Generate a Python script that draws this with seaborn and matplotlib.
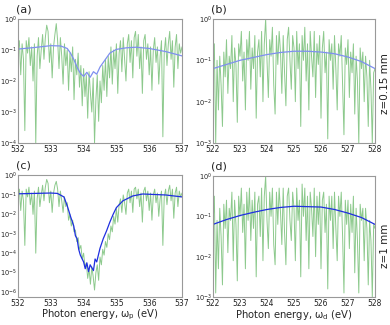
import numpy as np
import pandas as pd
import seaborn as sns
import matplotlib
matplotlib.use("Agg")
import matplotlib.pyplot as plt
from matplotlib.ticker import LogLocator, LogFormatterSciNotation, NullLocator

# spectra, log10 of intensity, sampled on an even energy grid
a_green = [-1.0, -0.7, -1.8, -0.8, -1.3, -3.6, -0.7, -1.1, -0.6, -1.5,
           -0.9, -2.0, -0.8, -4.0, -1.2, -0.6, -1.6, -1.0, -0.5, -1.3,
           -0.6, -0.2, -0.4, -1.4, -0.8, -1.9, -0.9, -0.5, -0.15, -0.7,
           -1.6, -0.6, -1.2, -2.1, -0.8, -1.5, -1.0, -2.3, -1.1, -1.7,
           -0.9, -2.6, -1.3, -1.8, -1.1, -2.2, -1.5, -2.8, -1.6, -2.5,
           -1.8, -3.2, -1.7, -2.4, -3.0, -1.9, -4.0, -2.6, -1.8, -3.3,
           -2.0, -2.7, -1.5, -2.3, -1.3, -2.5, -1.2, -1.9, -0.9, -2.1,
           -1.0, -1.6, -0.8, -2.4, -1.1, -0.7, -1.7, -0.6, -1.3, -2.0,
           -0.8, -0.5, -1.4, -0.7, -1.9, -0.6, -0.4, -1.2, -0.5, -1.6,
           -0.9, -2.4, -0.7, -0.5, -1.3, -0.8, -1.8, -0.9, -2.3, -1.0,
           -0.6, -1.4, -0.9, -2.1, -1.2, -0.7, -3.8, -1.1, -0.6, -1.5,
           -0.8, -0.4, -1.3, -0.7, -2.2, -0.9, -0.5, -1.6, -0.8, -1.1, -0.9]
c_green = [-1.0, -0.7, -1.8, -0.8, -1.3, -3.6, -0.7, -1.1, -0.6, -1.5,
           -0.9, -2.0, -0.8, -4.0, -1.2, -0.6, -1.6, -1.0, -0.5, -1.3,
           -0.6, -0.2, -0.4, -1.4, -0.8, -1.9, -0.9, -0.5, -0.3, -0.7,
           -1.6, -0.8, -1.3, -1.9, -1.1, -1.6, -1.4, -2.3, -2.0, -2.6,
           -2.3, -2.9, -2.8, -3.4, -3.2, -3.8, -3.6, -4.3, -4.0, -4.7,
           -4.5, -5.3, -4.8, -5.6, -4.7, -5.2, -5.9, -5.0, -4.6, -5.4,
           -4.2, -4.6, -3.8, -4.1, -3.4, -3.7, -3.0, -3.3, -2.6, -2.9,
           -2.1, -2.5, -1.7, -2.4, -1.5, -1.2, -1.9, -1.0, -1.4, -2.0,
           -0.9, -0.7, -1.4, -0.8, -1.9, -0.7, -0.6, -1.2, -0.7, -1.6,
           -0.9, -2.4, -0.8, -0.6, -1.3, -0.8, -1.8, -0.9, -2.3, -1.0,
           -0.7, -1.4, -0.9, -2.1, -1.2, -0.8, -3.6, -1.1, -0.7, -1.5,
           -0.8, -0.5, -1.3, -0.7, -2.2, -0.9, -0.6, -1.6, -0.8, -1.1, -0.9]
b_green = [-1.3, -0.6, -3.0, -1.0, -2.2, -0.9, -1.6, -2.6, -0.8, -1.4,
           -0.5, -1.8, -0.9, -1.2, -0.4, -2.0, -0.7, -1.1, -2.5, -0.6,
           -0.9, -0.3, -1.5, -0.8, -2.2, -0.5, -1.0, -0.3, -1.7, -0.7,
           -1.2, -0.4, -2.4, -0.8, -0.5, -1.4, -0.3, -2.0, -0.6, 0.0,
           -1.0, -1.9, -0.5, -0.9, -0.2, -1.6, -2.3, -0.4, -1.1, -0.3,
           -0.8, -1.8, -0.4, -1.3, -2.1, -0.5, -0.2, -1.0, -1.7, -0.4,
           -0.7, -2.0, -0.3, -1.2, -0.6, -2.6, -0.4, -1.0, -0.2, -1.5,
           -0.6, -2.2, -0.3, -0.9, -1.4, -0.3, -1.9, -0.6, -1.1, -0.4,
           -2.4, -0.7, -0.3, -1.3, -0.8, -2.9, -0.5, -1.0, -0.6, -1.7,
           -0.4, -1.2, -2.2, -0.6, -0.9, -0.4, -1.6, -2.8, -0.7, -1.1,
           -0.5, -1.9, -0.8, -1.3, -0.6, -2.3, -0.9, -1.5, -3.0, -0.7,
           -1.2, -0.8, -2.0, -0.9, -1.4, -2.6, -1.0, -1.7, -3.0, -1.3, -1.2]
d_green = [-1.2, -0.5, -2.9, -1.1, -2.3, -0.8, -1.5, -2.7, -0.7, -1.3,
           -0.6, -1.9, -0.8, -1.1, -0.4, -2.1, -0.6, -1.2, -2.6, -0.5,
           -1.0, -0.3, -1.4, -0.7, -2.3, -0.4, -1.1, -0.3, -1.6, -0.6,
           -1.3, -0.4, -2.5, -0.7, -0.5, -1.5, -0.3, -2.1, -0.5, 0.0,
           -1.1, -1.8, -0.4, -1.0, -0.3, -1.7, -2.2, -0.4, -1.2, -0.3,
           -0.9, -1.7, -0.3, -1.4, -2.2, -0.5, -0.3, -1.1, -1.6, -0.4,
           -0.8, -2.1, -0.3, -1.1, -0.6, -2.5, -0.2, -1.0, -0.3, -1.6,
           -0.5, -2.3, -0.4, -0.8, -1.5, -0.3, -2.0, -0.5, -1.2, -0.4,
           -2.3, -0.6, -0.4, -1.4, -0.7, -2.8, -0.5, -1.1, -0.5, -1.8,
           -0.4, -1.3, -2.1, -0.5, -1.0, -0.4, -1.5, -2.9, -0.6, -1.2,
           -0.6, -1.8, -0.7, -1.4, -0.5, -2.4, -0.8, -1.6, -2.9, -0.7,
           -1.1, -0.8, -2.1, -0.8, -1.3, -2.7, -1.1, -1.6, -3.0, -1.2, -1.3]

# smooth (averaged) curves
a_blue_x = [532.0, 532.5, 533.0, 533.3, 533.5, 533.6, 533.7, 533.8, 533.9, 534.0,
            534.1, 534.2, 534.3, 534.4, 534.5, 534.6, 534.7, 534.8, 535.0, 535.3,
            535.6, 536.0, 536.5, 537.0]
a_blue = [-0.97, -0.92, -0.86, -0.87, -0.95, -1.1, -1.3, -1.55, -1.75, -1.85,
          -1.72, -1.88, -1.7, -1.78, -1.55, -1.4, -1.25, -1.1, -0.98, -0.93,
          -0.91, -0.95, -1.05, -1.19]
c_blue_x = [532.0, 532.5, 533.0, 533.2, 533.4, 533.5, 533.6, 533.7, 533.75, 533.8,
            533.85, 533.9, 534.0, 534.05, 534.1, 534.15, 534.2, 534.3, 534.35, 534.4,
            534.45, 534.5, 534.6, 534.7, 534.8, 534.9, 535.0, 535.2, 535.5, 535.8,
            536.5, 537.0]
c_blue = [-0.94, -0.92, -0.9, -0.92, -1.1, -1.55, -2.1, -2.6, -3.1, -3.25,
          -3.8, -4.1, -4.45, -4.8, -4.5, -4.95, -4.6, -4.9, -4.3, -4.45,
          -4.1, -3.75, -3.25, -2.85, -2.4, -2.0, -1.65, -1.3, -1.05, -0.95,
          -1.0, -1.1]
bd_blue_x = [522.0, 522.5, 523.0, 523.5, 524.0, 524.5, 525.0, 525.5, 526.0, 526.5,
             527.0, 527.5, 528.0]
b_blue = [-1.2, -1.1, -1.0, -0.93, -0.86, -0.81, -0.78, -0.78, -0.8, -0.84,
          -0.92, -1.03, -1.2]
d_blue = [-1.2, -1.08, -0.98, -0.9, -0.83, -0.78, -0.75, -0.76, -0.77, -0.83,
          -0.92, -1.03, -1.2]

p_ticks = [532, 533, 534, 535, 536, 537]
d_ticks = [522, 523, 524, 525, 526, 527, 528]

sns.set_style("white")
plt.rcParams['font.family'] = ['DejaVu Sans']
plt.rcParams['mathtext.default'] = 'regular'

fig = plt.figure(figsize=(3.9, 3.25), dpi=100)
W, H = 390, 325


def box(x0, x1, y0, y1):
    return [x0 / W, 1 - y1 / H, (x1 - x0) / W, (y1 - y0) / H]


panels = [
    ("(a)", box(18, 182, 19, 143), (532, 537), a_green, a_blue_x, a_blue, "#7f8ff0", (1e-4, 1), p_ticks),
    ("(b)", box(213, 375, 19, 143), (522, 528), b_green, bd_blue_x, b_blue, "#7f8ff0", (1e-3, 1), d_ticks),
    ("(c)", box(18, 182, 175, 297), (532, 537), c_green, c_blue_x, c_blue, "#1f2fe0", (5.5e-7, 1.07), p_ticks),
    ("(d)", box(213, 375, 176, 297), (522, 528), d_green, bd_blue_x, d_blue, "#1f2fe0", (1e-3, 1), d_ticks),
]

for label, rect, xr, green, bx, blue, bcol, ylim, xt in panels:
    ax = fig.add_axes(rect)
    gx = np.linspace(xr[0], xr[1], len(green))
    g = pd.DataFrame({"E": gx, "I": 10 ** np.array(green)})
    b = pd.DataFrame({"E": bx, "I": 10 ** np.array(blue)})
    sns.lineplot(data=g, x="E", y="I", ax=ax, color="#2f9e2f", lw=0.7,
                 alpha=0.55, sort=False, estimator=None)
    sns.lineplot(data=b, x="E", y="I", ax=ax, color=bcol, lw=0.9,
                 sort=False, estimator=None)
    ax.set_yscale("log")
    ax.set_xlim(*xr)
    ax.set_ylim(*ylim)
    ax.set_xticks(xt)
    ax.yaxis.set_major_locator(LogLocator(base=10, numticks=12))
    ax.yaxis.set_major_formatter(LogFormatterSciNotation())
    ax.yaxis.set_minor_locator(NullLocator())
    ax.tick_params(length=2, width=0.5, direction="in",
                   color="#999999", labelcolor="#222222", pad=1)
    ax.tick_params(axis="x", labelsize=5.5, pad=1.5)
    ax.tick_params(axis="y", labelsize=4.8, pad=0.8)
    ax.set_ylabel("")
    for s in ax.spines.values():
        s.set_color("#999999")
        s.set_linewidth(0.8)
    ax.text(-0.015, 1.04, label, transform=ax.transAxes, fontsize=8,
            ha="left", va="bottom", color="#222222")
    if label == "(c)":
        ax.set_xlabel(r"Photon energy, $\omega_p$ (eV)", fontsize=7.2, labelpad=0)
    elif label == "(d)":
        ax.set_xlabel(r"Photon energy, $\omega_d$ (eV)", fontsize=7.2, labelpad=0)
    else:
        ax.set_xlabel("")

fig.text(385 / W, 1 - 84 / H, "z=0.15 mm", rotation=90, fontsize=7.5,
         ha="center", va="center", color="#222222")
fig.text(385 / W, 1 - 246 / H, "z=1 mm", rotation=90, fontsize=7.5,
         ha="center", va="center", color="#222222")

fig.savefig("out.png", dpi=100)
